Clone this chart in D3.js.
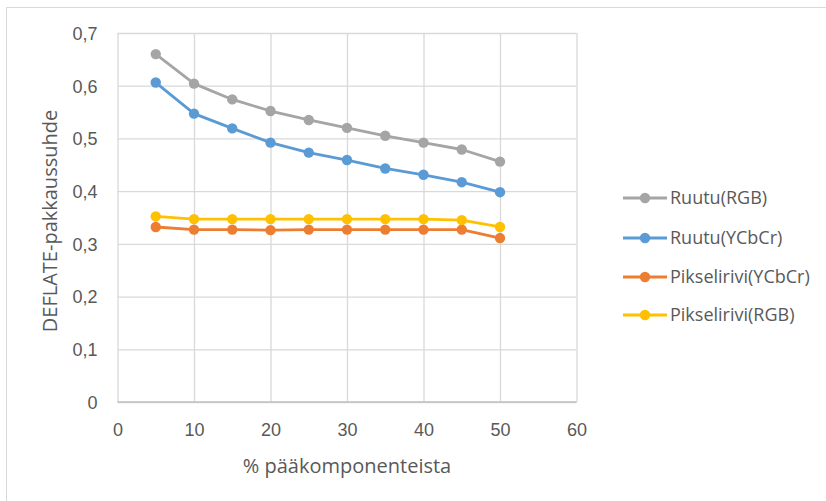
<!DOCTYPE html>
<html>
<head>
<meta charset="utf-8">
<script src="https://cdn.jsdelivr.net/npm/d3@7"></script>
<style>
  html, body { margin: 0; padding: 0; background: #fff; }
  svg { display: block; font-family: "Open Sans", "Noto Sans", sans-serif; }
</style>
</head>
<body>
<svg id="chart" width="826" height="501"></svg>
<script>
// Share of principal components kept (%)
const percents = [5, 10, 15, 20, 25, 30, 35, 40, 45, 50];

// DEFLATE compression ratio per method
const ruutuRGB = [0.660, 0.604, 0.574, 0.552, 0.535, 0.520, 0.505, 0.492, 0.479, 0.456];
const ruutuYCbCr = [0.606, 0.547, 0.519, 0.492, 0.473, 0.459, 0.443, 0.431, 0.417, 0.398];
const pikseliriviYCbCr = [0.332, 0.327, 0.327, 0.326, 0.327, 0.327, 0.327, 0.327, 0.327, 0.311];
const pikseliriviRGB = [0.352, 0.347, 0.347, 0.347, 0.347, 0.347, 0.347, 0.347, 0.345, 0.332];

const seriesNames = ["Ruutu(RGB)", "Ruutu(YCbCr)", "Pikselirivi(YCbCr)", "Pikselirivi(RGB)"];
const seriesValues = [ruutuRGB, ruutuYCbCr, pikseliriviYCbCr, pikseliriviRGB];
const seriesColors = ["#A5A5A5", "#5B9BD5", "#ED7D31", "#FFC000"];

const xTicks = [0, 10, 20, 30, 40, 50, 60];
const yTicks = [0, 0.1, 0.2, 0.3, 0.4, 0.5, 0.6, 0.7];

const xTitle = "% pääkomponenteista";
const yTitle = "DEFLATE-pakkaussuhde";

const svg = d3.select("#chart");
const textColor = "#595959";
const gridColor = "#D9D9D9";

// chart frame
svg.append("rect")
  .attr("x", 6.5).attr("y", 7.5)
  .attr("width", 830).attr("height", 510)
  .attr("fill", "#fff").attr("stroke", "#D9D9D9").attr("stroke-width", 1);

const plot = { left: 117.5, right: 576.5, top: 33, bottom: 402 };

const x = d3.scaleLinear().domain([0, 60]).range([plot.left, plot.right]);
const y = d3.scaleLinear().domain([0, 0.7]).range([plot.bottom, plot.top]);

const fmt = v => v === 0 ? "0" : d3.format(".1f")(v).replace(".", ",");

// horizontal gridlines + y labels
const yAxis = d3.axisLeft(y).tickValues(yTicks).tickSize(-(plot.right - plot.left)).tickFormat(fmt);
const gy = svg.append("g").attr("transform", `translate(${plot.left},0)`).call(yAxis);
gy.select(".domain").remove();
gy.selectAll(".tick line").attr("stroke", gridColor).attr("stroke-width", 1.3);
gy.selectAll(".tick text").attr("fill", textColor).style("font-size", "18px")
  .attr("x", -20).attr("dy", "0.35em");

// vertical gridlines + x labels
const xAxis = d3.axisBottom(x).tickValues(xTicks).tickSize(-(plot.bottom - plot.top)).tickFormat(d3.format("d"));
const gx = svg.append("g").attr("transform", `translate(0,${plot.bottom})`).call(xAxis);
gx.select(".domain").remove();
gx.selectAll(".tick line").attr("stroke", gridColor).attr("stroke-width", 1.3);
gx.selectAll(".tick text").attr("fill", textColor).style("font-size", "18px")
  .attr("y", 28).attr("dy", "0.35em");

// axis base line
svg.append("line")
  .attr("x1", plot.left).attr("x2", plot.right)
  .attr("y1", plot.bottom).attr("y2", plot.bottom)
  .attr("stroke", "#BFBFBF").attr("stroke-width", 1.3);

// axis titles
svg.append("text")
  .attr("x", (plot.left + plot.right) / 2).attr("y", 473)
  .attr("text-anchor", "middle").attr("fill", textColor)
  .style("font-size", "20px").text(xTitle);

svg.append("text")
  .attr("transform", `translate(57,221) rotate(-90)`)
  .attr("text-anchor", "middle").attr("fill", textColor)
  .style("font-size", "20px").text(yTitle);

// series lines and markers
const line = d3.line().x((d, i) => x(percents[i])).y(d => y(d));

seriesValues.forEach((vals, s) => {
  const g = svg.append("g");
  g.append("path").datum(vals)
    .attr("d", line).attr("fill", "none")
    .attr("stroke", seriesColors[s]).attr("stroke-width", 2.8)
    .attr("stroke-linejoin", "round");
  g.selectAll("circle").data(vals).join("circle")
    .attr("cx", (d, i) => x(percents[i])).attr("cy", d => y(d))
    .attr("r", 5.2).attr("fill", seriesColors[s]);
});

// legend
const legendRows = [198, 238, 277, 315];
seriesNames.forEach((name, s) => {
  const g = svg.append("g").attr("transform", `translate(623,${legendRows[s]})`);
  g.append("line").attr("x1", 0).attr("x2", 44).attr("y1", 0).attr("y2", 0)
    .attr("stroke", seriesColors[s]).attr("stroke-width", 2.8);
  g.append("circle").attr("cx", 22).attr("cy", 0).attr("r", 5.2).attr("fill", seriesColors[s]);
  g.append("text").attr("x", 47).attr("y", 0).attr("dy", "0.35em")
    .attr("fill", textColor).style("font-size", "18px").text(name);
});
</script>
</body>
</html>
